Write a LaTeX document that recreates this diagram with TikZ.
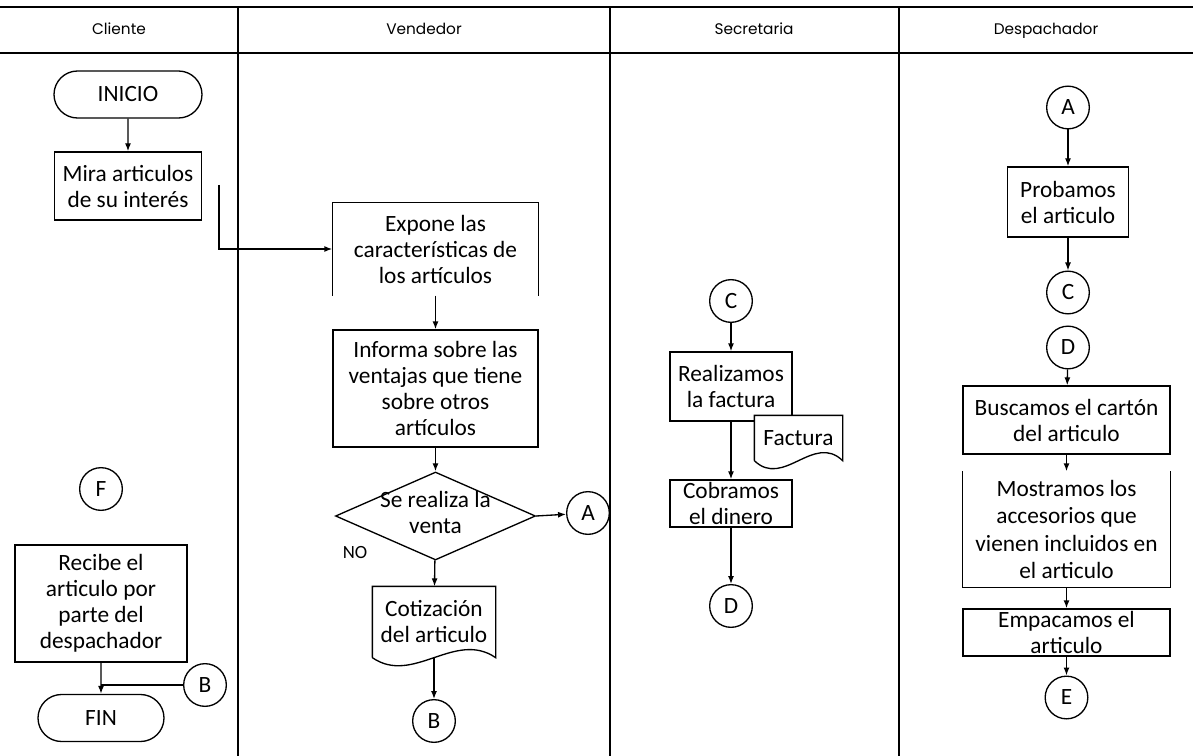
\documentclass[tikz,border=0pt]{standalone}
\usepackage{fontspec}
\setmainfont{Carlito}
\newfontfamily\headfont{Poppins}
\usetikzlibrary{shapes.geometric,shapes.misc,arrows.meta}

% contorno de documento (onda abajo), #2 = ancho en px
\newcommand{\docline}[2]{\draw (#1.south west) -- (#1.north west) -- (#1.north east) -- (#1.south east) .. controls +(-#2/3,-28) and +(#2/3,28) .. (#1.south west);}

\begin{document}
\begin{tikzpicture}[x=0.75pt,y=-0.75pt,line width=1pt,
  >={Latex[length=6pt,width=4.5pt]},
  txt/.style={font=\fontsize{17.5}{19.5}\selectfont,align=center,inner sep=0pt},
  box/.style={txt,draw,rectangle},
  term/.style={txt,draw,rounded rectangle,minimum height=35.25pt},
  conn/.style={txt,draw,circle,minimum size=32pt},
  head/.style={font=\headfont\fontsize{11.5}{13}\selectfont,inner sep=0pt,anchor=base}]
\useasboundingbox (0,0) rectangle (1193,756);

% carriles
\draw (0,7) -- (1193,7);
\draw (0,53) -- (1193,53);
\foreach \x in {238,610,899} \draw (\x,7) -- (\x,756);
\node[head] (hcli) at (119,35) {Cliente};
\node[head] (hven) at (424,35) {Vendedor};
\node[head] (hsec) at (754,35) {Secretaria};
\node[head] (hdes) at (1046,35) {Despachador};

% Cliente
\node[term,minimum width=111pt] (inicio) at (128,94.5) {INICIO};
\node[box,minimum width=110.25pt,minimum height=51pt] (mira) at (128,186) {Mira articulos\\de su interés};
\draw[->] (inicio) -- (mira);
\coordinate (mirout) at (219,185);
\node[conn] (f) at (101,489) {F};
\node[box,minimum width=129pt,minimum height=87.75pt] (recibe) at (101,603.5) {Recibe el\\articulo por\\parte del\\despachador};
\node[term,minimum width=94.5pt] (fin) at (101,718) {FIN};
\node[conn] (bcli) at (205,685) {B};
\draw[->] (recibe) -- (fin);
\draw (bcli) -- (bcli -| fin);

% Vendedor
\node[txt,minimum width=153.75pt,minimum height=69pt] (expone) at (435.5,249) {Expone las\\características de\\los artículos};
\draw (expone.south west) -- (expone.north west) -- (expone.north east) -- (expone.south east);
\draw[->] (mirout) |- (expone.west);
\node[box,minimum width=153.75pt,minimum height=87.75pt] (informa) at (435.5,388.5) {Informa sobre las\\ventajas que tiene\\sobre otros\\artículos};
\draw[->] (expone.south) -- (informa);
\node[draw,diamond,minimum width=150pt,minimum height=66pt,inner sep=0pt] (venta) at (435.5,516) {};
\node[txt] (ventatxt) at (435.5,512) {Se realiza la\\venta};
\draw[->] (informa) -- (venta);
\node[conn] (aven) at (588,513) {A};
\draw[->] (venta.east) -- (aven);
\node[txt,font=\fontsize{14}{16}\selectfont] (no) at (355,553) {NO};
\node[txt,fill=white,minimum width=91.5pt,minimum height=52.5pt] (cotiza) at (434,622) {Cotización\\del articulo};
\docline{cotiza}{122}
\draw[->] (venta) -- (cotiza);
\node[conn] (bven) at (434,721) {B};
\draw[->] (cotiza.south) -- (bven);

% Secretaria
\node[conn] (csec) at (731,301) {C};
\node[box,minimum width=91.5pt,minimum height=51.75pt] (realiza) at (731,386.5) {Realizamos\\la factura};
\draw[->] (csec) -- (realiza);
\node[txt,fill=white,minimum width=65.25pt,minimum height=33pt] (factura) at (798.5,438) {Factura};
\docline{factura}{87}
\node[box,minimum width=91.5pt,minimum height=35.25pt] (cobra) at (731,503.5) {Cobramos\\el dinero};
\draw[->] (realiza) -- (cobra);
\node[conn] (dsec) at (731,606) {D};
\draw[->] (cobra) -- (dsec);

% Despachador
\node[conn] (ades) at (1068,107.5) {A};
\node[box,minimum width=90.75pt,minimum height=52.5pt] (prueba) at (1068,202) {Probamos\\el articulo};
\draw[->] (ades) -- (prueba);
\node[conn] (cdes) at (1068,292.5) {C};
\draw[->] (prueba) -- (cdes);
\node[conn] (ddes) at (1068,347.5) {D};
\node[box,minimum width=155.25pt,minimum height=51pt] (busca) at (1066.5,420) {Buscamos el cartón\\del articulo};
\draw[->] (ddes) -- (busca);
\node[txt,minimum width=155.25pt,minimum height=86.25pt,font=\fontsize{17.5}{20.5}\selectfont] (muestra) at (1066.5,529.5) {Mostramos los\\accesorios que\\vienen incluidos en\\el articulo};
\draw (muestra.north west) -- (muestra.south west) -- (muestra.south east) -- (muestra.north east);
\draw[->] (busca) -- (muestra.north);
\node[box,minimum width=155.25pt,minimum height=35.25pt] (empaca) at (1066.5,632.5) {Empacamos el\\articulo};
\draw[->] (muestra) -- (empaca);
\node[conn] (edes) at (1066.5,697.5) {E};
\draw[->] (empaca) -- (edes);

\end{tikzpicture}
\end{document}
